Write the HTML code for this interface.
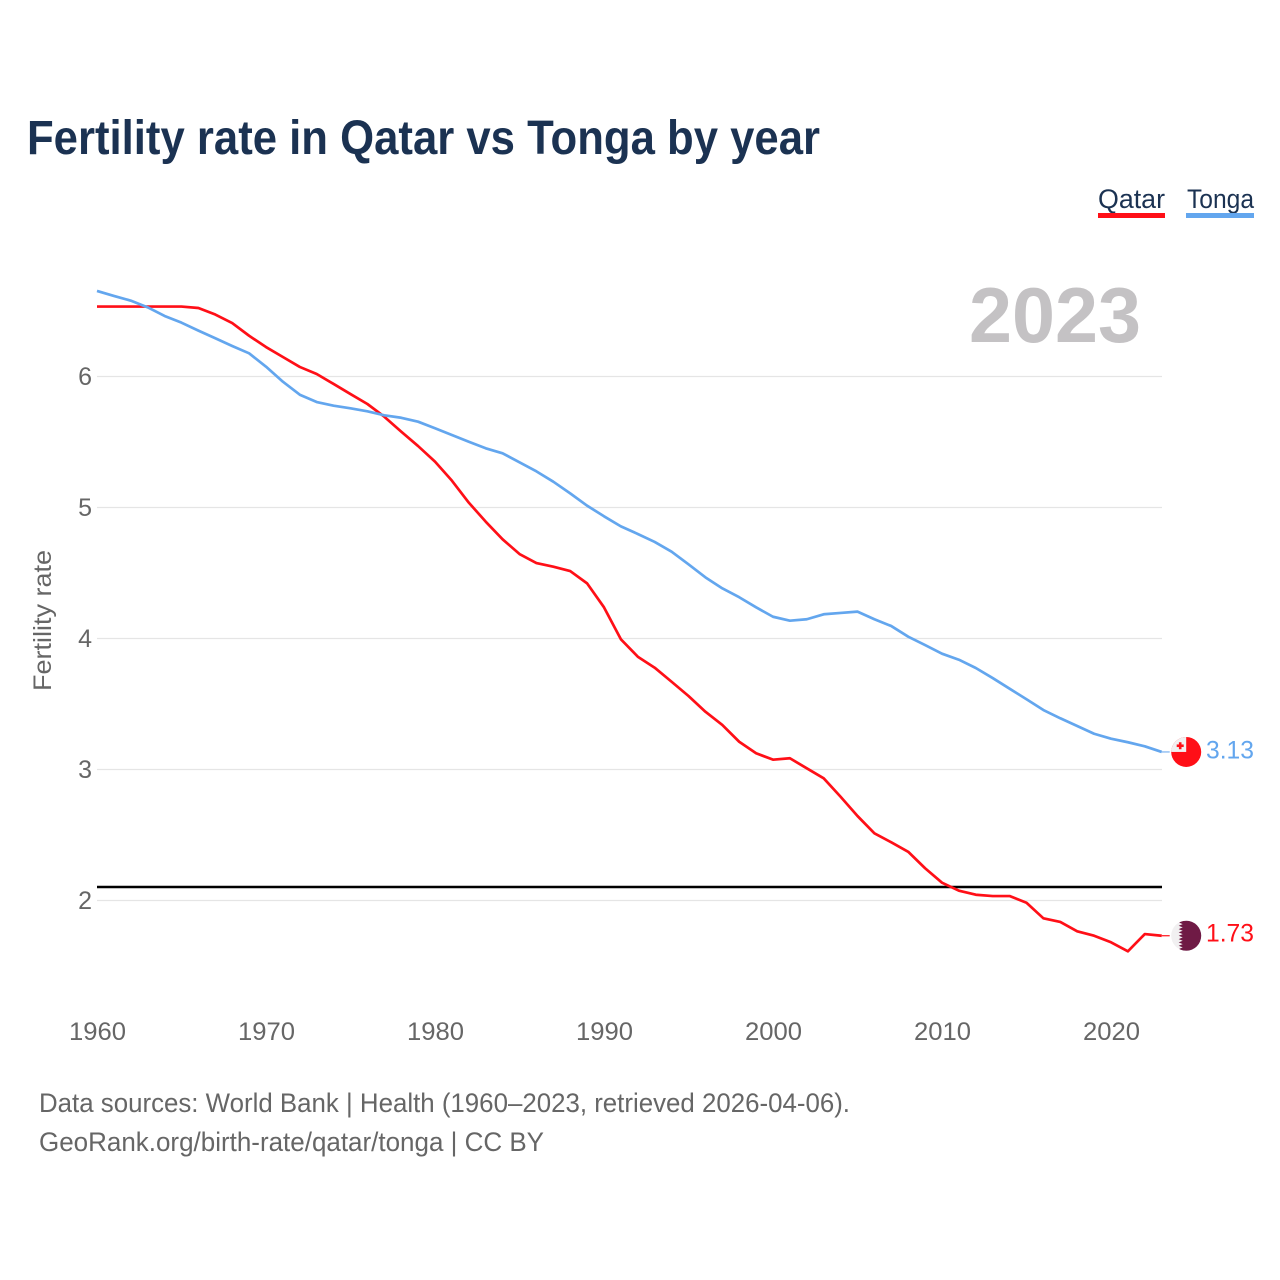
<!DOCTYPE html>
<html lang="en">
<head>
<meta charset="utf-8">
<title>Fertility rate in Qatar vs Tonga by year</title>
<style>
html,body{margin:0;padding:0;background:#fff;}
svg{display:block;}
text{font-family:"Liberation Sans",sans-serif;}
</style>
</head>
<body>
<svg id="chart" xmlns="http://www.w3.org/2000/svg" width="1280" height="1280" viewBox="0 0 1280 1280">
  <rect x="0" y="0" width="1280" height="1280" fill="#ffffff"/>
  <text x="27" y="154" font-size="48" font-weight="700" fill="#1b3252" textLength="793" lengthAdjust="spacingAndGlyphs">Fertility rate in Qatar vs Tonga by year</text>

  <g>
    <text x="1098" y="208" font-size="27" fill="#1b3252" textLength="67" lengthAdjust="spacingAndGlyphs">Qatar</text>
    <rect x="1098" y="213" width="67" height="5" fill="#ff0f17"/>
  </g>
  <g>
    <text x="1187" y="208" font-size="27" fill="#1b3252" textLength="67" lengthAdjust="spacingAndGlyphs">Tonga</text>
    <rect x="1186" y="213" width="68" height="5" fill="#63a6ee"/>
  </g>

  <text x="969" y="342" font-size="78" font-weight="700" fill="#c4c2c4" textLength="172" lengthAdjust="spacingAndGlyphs">2023</text>
  <text transform="translate(51 691) rotate(-90)" x="0" y="0" font-size="25" fill="#666666" textLength="141" lengthAdjust="spacingAndGlyphs">Fertility rate</text>

  <g id="grid"></g>
  <g id="ylabels"></g>
  <g id="xlabels"></g>
  <g id="reference"></g>
  <g id="series"></g>
  <g id="markers"></g>

  <text x="39" y="1112" font-size="27" fill="#666666" textLength="811" lengthAdjust="spacingAndGlyphs">Data sources: World Bank | Health (1960–2023, retrieved 2026-04-06).</text>
  <text x="39" y="1151" font-size="27" fill="#666666" textLength="505" lengthAdjust="spacingAndGlyphs">GeoRank.org/birth-rate/qatar/tonga | CC BY</text>
</svg>

<script>
const startYear = 1960;
const xTickYears = [1960, 1970, 1980, 1990, 2000, 2010, 2020];
const yTickValues = [2, 3, 4, 5, 6];
const replacementRate = [2.103];
const qatarValues = [
  6.534, 6.534, 6.534, 6.534, 6.534, 6.534, 6.523, 6.473, 6.408, 6.311,
  6.225, 6.149, 6.073, 6.019, 5.943, 5.866, 5.790, 5.693, 5.579, 5.469,
  5.350, 5.205, 5.037, 4.892, 4.757, 4.645, 4.576, 4.548, 4.515, 4.421,
  4.238, 3.994, 3.861, 3.777, 3.670, 3.561, 3.441, 3.340, 3.212, 3.124,
  3.075, 3.086, 3.009, 2.933, 2.792, 2.645, 2.513, 2.444, 2.372, 2.246,
  2.136, 2.075, 2.044, 2.034, 2.034, 1.983, 1.864, 1.836, 1.765, 1.731,
  1.681, 1.612, 1.744, 1.731
];
const tongaValues = [
  6.653, 6.615, 6.579, 6.528, 6.462, 6.411, 6.350, 6.292, 6.233, 6.177,
  6.075, 5.960, 5.861, 5.805, 5.777, 5.757, 5.734, 5.704, 5.685, 5.655,
  5.605, 5.553, 5.502, 5.452, 5.414, 5.345, 5.276, 5.197, 5.108, 5.014,
  4.933, 4.856, 4.798, 4.737, 4.663, 4.566, 4.467, 4.383, 4.315, 4.238,
  4.166, 4.136, 4.147, 4.185, 4.195, 4.205, 4.147, 4.095, 4.014, 3.950,
  3.884, 3.838, 3.775, 3.698, 3.617, 3.536, 3.454, 3.391, 3.332, 3.273,
  3.235, 3.208, 3.177, 3.134
];

const NS = 'http://www.w3.org/2000/svg';
const RED = '#ff0f17';
const BLUE = '#63a6ee';
const xScale = function (year) { return 97 + (year - 1960) * 16.9; };
const yScale = function (value) { return 376.5 + (6 - value) * 131; };
const make = function (tag, parent) {
  const el = document.createElementNS(NS, tag);
  parent.appendChild(el);
  return el;
};
const attrs = function (el, map) {
  Object.keys(map).forEach(function (k) { el.setAttribute(k, map[k]); });
  return el;
};

const gridG = document.getElementById('grid');
const yLabG = document.getElementById('ylabels');
yTickValues.forEach(function (v) {
  const line = make('line', gridG);
  
  
  attrs(line, { x1: 97, x2: 1162, y1: yScale(v), y2: yScale(v), stroke: '#e5e5e5', 'stroke-width': 1.2 });
  const t = make('text', yLabG);
  
  
  attrs(t, { x: 92, y: yScale(v) + 8.5, 'text-anchor': 'end', 'font-size': 25, fill: '#666666' });
  t.textContent = String(v);
});

const xLabG = document.getElementById('xlabels');
xTickYears.forEach(function (yr) {
  const t = make('text', xLabG);
  
  
  attrs(t, { x: xScale(yr) + 0.5, y: 1040, 'text-anchor': 'middle', 'font-size': 25, fill: '#666666', textLength: 57, lengthAdjust: 'spacingAndGlyphs' });
  t.textContent = String(yr);
});

const refLine = make('line', document.getElementById('reference'));


attrs(refLine, { x1: 97, x2: 1162, y1: yScale(replacementRate[0]), y2: yScale(replacementRate[0]), stroke: '#000000', 'stroke-width': 2.4 });

const toPath = function (values) {
  return values.map(function (v, i) {
    return (i ? 'L' : 'M') + xScale(startYear + i).toFixed(2) + ' ' + yScale(v).toFixed(2);
  }).join(' ');
};

const seriesG = document.getElementById('series');
const qatarLine = make('path', seriesG);


attrs(qatarLine, { d: toPath(qatarValues), fill: 'none', stroke: RED, 'stroke-width': 2.7, 'stroke-linejoin': 'round' });
const tongaLine = make('path', seriesG);


attrs(tongaLine, { d: toPath(tongaValues), fill: 'none', stroke: BLUE, 'stroke-width': 2.7, 'stroke-linejoin': 'round' });

const markersG = document.getElementById('markers');
const lastX = xScale(startYear + qatarValues.length - 1);

/* Qatar end marker */
const qY = yScale(qatarValues[qatarValues.length - 1]);
const qConn = make('line', markersG);


attrs(qConn, { x1: lastX, x2: lastX + 8, y1: qY, y2: qY, stroke: RED, 'stroke-width': 1.2 });

const qFlag = make('g', markersG);


qFlag.setAttribute('transform', 'translate(' + (lastX + 24.5) + ' ' + qY + ')');
const qBase = make('circle', qFlag);


attrs(qBase, { r: 15, fill: '#f1f0f1' });
const qClip = make('clipPath', qFlag);
qClip.setAttribute('id', 'qclip');
attrs(make('circle', qClip), { r: 15 });
const qBand = make('polygon', qFlag);


let qPts = '16,-16 ';
for (let k = 0; k < 9; k++) {
  const top = -15 + k * (30 / 9);
  qPts += '-3.5,' + top.toFixed(2) + ' -7.5,' + (top + 15 / 9).toFixed(2) + ' ';
}
qPts += '-3.5,15 16,16';
attrs(qBand, { points: qPts, fill: '#6f1a45', 'clip-path': 'url(#qclip)' });

const qLabel = make('text', markersG);


attrs(qLabel, { x: 1254, y: qY + 6, 'text-anchor': 'end', 'font-size': 25, fill: RED, textLength: 48, lengthAdjust: 'spacingAndGlyphs' });
qLabel.textContent = qatarValues[qatarValues.length - 1].toFixed(2);

/* Tonga end marker */
const tY = yScale(tongaValues[tongaValues.length - 1]);
const tConn = make('line', markersG);


attrs(tConn, { x1: lastX, x2: lastX + 8, y1: tY, y2: tY, stroke: '#8dbdf2', 'stroke-width': 1.4 });

const tFlag = make('g', markersG);


tFlag.setAttribute('transform', 'translate(' + (lastX + 24.5) + ' ' + tY + ')');
const tBase = make('circle', tFlag);


attrs(tBase, { r: 15, fill: RED });
const tClip = make('clipPath', tFlag);
tClip.setAttribute('id', 'tclip');
attrs(make('circle', tClip), { r: 15 });
const tCanton = make('rect', tFlag);


attrs(tCanton, { x: -16, y: -16, width: 16, height: 16, fill: '#f1f0f1', 'clip-path': 'url(#tclip)' });
const tCrossH = make('rect', tFlag);


attrs(tCrossH, { x: -9.5, y: -7.5, width: 7, height: 2.6, fill: RED });
const tCrossV = make('rect', tFlag);


attrs(tCrossV, { x: -7.3, y: -9.7, width: 2.6, height: 7, fill: RED });

const tLabel = make('text', markersG);


attrs(tLabel, { x: 1254, y: tY + 6.5, 'text-anchor': 'end', 'font-size': 25, fill: BLUE, textLength: 48, lengthAdjust: 'spacingAndGlyphs' });
tLabel.textContent = tongaValues[tongaValues.length - 1].toFixed(2);
</script>
</body>
</html>
